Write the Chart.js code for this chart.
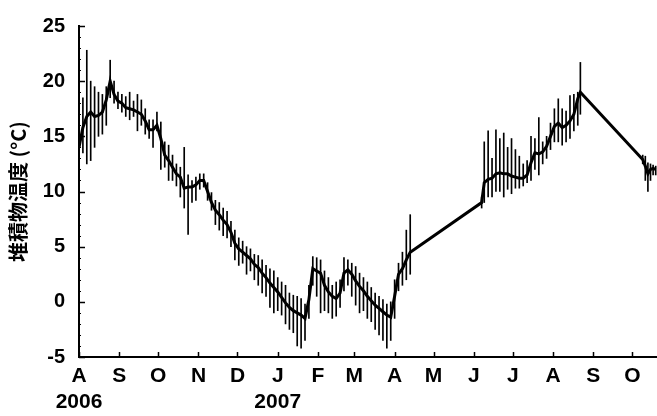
<!DOCTYPE html>
<html>
<head>
<meta charset="utf-8">
<script src="https://cdn.jsdelivr.net/npm/chart.js@4/dist/chart.umd.min.js"></script>
<style>
  html, body { margin: 0; padding: 0; background: #fff; }
  #wrap { width: 657px; height: 416px; }
</style>
</head>
<body>
<div id="wrap"><canvas id="tempChart"></canvas></div>
<script>
// days counted from 2006-08-01
const days = [
    0, 3, 6, 9, 12, 15, 18, 21, 24, 27, 30, 33, 36, 39, 42, 45, 48, 51, 54, 57,
    60, 63, 66, 69, 72, 75, 78, 81, 84, 87, 90, 93, 96, 99, 102, 105, 108, 111, 114, 117,
    120, 123, 126, 129, 132, 135, 138, 141, 144, 147, 150, 153, 156, 159, 162, 165, 168, 171, 174, 177,
    180, 183, 186, 189, 192, 195, 198, 201, 204, 207, 210, 213, 216, 219, 222, 225, 228, 231, 234, 237,
    240, 243, 246, 249, 252, 255,
    310, 312, 315, 318, 321, 324, 327, 330, 333, 336, 339, 342, 345, 348, 351, 354, 357, 360, 363, 366,
    369, 372, 375, 378, 381, 384, 386,
    434, 436, 438, 440, 442, 444
];
const meanTemp = [
    14.0, 15.8, 16.8, 17.2, 16.8, 16.9, 17.2, 18.3, 20.0, 18.8, 18.2, 18.0, 17.6, 17.5, 17.4, 17.2, 17.0, 16.4, 15.6, 15.6,
    16.0, 14.8, 13.3, 12.8, 12.2, 11.6, 11.3, 10.3, 10.4, 10.4, 10.6, 11.0, 11.0, 10.0, 9.0, 8.3, 7.9, 7.4, 7.0, 6.3,
    5.3, 4.8, 4.5, 4.2, 3.9, 3.4, 3.1, 2.6, 2.2, 1.7, 1.3, 0.9, 0.4, -0.1, -0.5, -0.8, -1.0, -1.2, -1.5, 0.2,
    3.0, 2.8, 2.6, 1.5, 0.9, 0.5, 0.3, 0.8, 2.6, 2.9, 2.5, 1.9, 1.4, 1.0, 0.5, 0.1, -0.3, -0.6, -0.9, -1.2,
    -1.4, 0.5, 2.5, 3.0, 3.8, 4.5,
    9.0, 10.8, 11.1, 11.2, 11.6, 11.7, 11.6, 11.6, 11.4, 11.3, 11.2, 11.2, 11.5, 12.6, 13.5, 13.4, 13.6, 14.1, 15.0, 15.9,
    16.2, 15.8, 16.0, 16.4, 17.0, 18.4, 19.0,
    12.9, 12.3, 11.6, 12.0, 12.1, 12.0
];
const minTemp = [
    13.0, 13.5, 12.5, 12.8, 14.0, 15.0, 15.2, 16.0, 18.5, 18.0, 17.5, 17.2, 16.8, 16.5, 16.8, 15.5, 16.0, 15.2, 14.8, 14.0,
    15.5, 12.0, 12.2, 11.0, 11.0, 10.5, 9.5, 8.5, 6.1, 9.0, 9.2, 10.2, 10.4, 9.2, 8.3, 7.0, 6.5, 6.0, 5.8, 5.0,
    3.8, 3.3, 3.5, 2.5, 2.8, 2.0, 1.5, 0.8, 0.5, -0.5, -1.0, -0.8, -1.2, -2.0, -2.5, -2.8, -4.0, -4.2, -3.5, -1.5,
    1.5, 0.5, -1.0, -0.8, -1.0, -1.5, -1.3, -0.5, 1.0, 1.5, 0.5, -0.3, -1.0, -0.8, -1.5, -1.8, -2.5, -3.0, -3.5, -4.2,
    -3.5, -1.5, 1.0, 1.5, 2.0, 2.5,
    8.5, 9.0, 9.5, 9.5, 10.0, 10.0, 9.5, 10.2, 9.8, 10.3, 10.3, 10.5, 10.8, 11.0, 12.0, 11.5, 12.5, 13.0, 13.8, 14.5,
    14.5, 14.2, 14.5, 14.8, 15.5, 16.0, 17.0,
    12.5, 11.0, 10.0, 11.0, 11.5, 11.5
];
const maxTemp = [
    15.5, 18.5, 22.8, 20.0, 19.5, 19.0, 18.8, 19.5, 21.9, 20.0, 19.0, 18.8, 18.6, 19.0, 18.2, 18.8, 18.3, 17.5, 16.5, 16.5,
    17.2, 16.3, 14.5, 14.2, 13.3, 12.5, 12.2, 14.0, 11.5, 11.0, 11.3, 11.6, 11.6, 10.8, 9.9, 9.2, 9.0, 8.5, 8.2, 7.3,
    6.5, 5.8, 5.5, 5.0, 4.8, 4.3, 4.2, 3.8, 3.3, 3.0, 2.8, 2.2, 1.8, 1.5, 0.8, 0.6, 0.5, 0.3, -0.2, 1.5,
    4.1, 4.0, 3.8, 2.8, 2.2, 1.5, 1.8, 2.0, 4.0, 3.8, 3.5, 3.2, 2.6, 2.2, 1.8, 1.3, 0.8, 0.5, 0.2, -0.2,
    0.0, 2.0, 3.5, 4.5, 6.5, 7.9,
    9.5, 14.5, 15.5, 13.0, 15.6, 14.8, 15.3, 14.0, 14.8, 13.8, 13.2, 12.5, 12.8, 15.0, 14.8, 16.7, 14.5, 15.0, 16.2, 17.5,
    18.4, 17.5, 17.3, 18.7, 18.8, 19.0, 21.7,
    13.3, 13.2, 12.6, 12.5, 12.4, 12.3
];

const tickDates = [
    [2006, 8], [2006, 9], [2006, 10], [2006, 11], [2006, 12], [2007, 1], [2007, 2], [2007, 3],
    [2007, 4], [2007, 5], [2007, 6], [2007, 7], [2007, 8], [2007, 9], [2007, 10]
];
const monthLetters = ['A', 'S', 'O', 'N', 'D', 'J', 'F', 'M', 'A', 'M', 'J', 'J', 'A', 'S', 'O'];
const yearLabels = ['2006', '', '', '', '', '2007', '', '', '', '', '', '', '', '', ''];
const yTicks = [-5, 0, 5, 10, 15, 20, 25];

const startDay = Date.UTC(2006, 7, 1);
const tickDays = tickDates.map(function (d) {
    return (Date.UTC(d[0], d[1] - 1, 1) - startDay) / 86400000;
});

const meanPoints = days.map(function (d, i) { return { x: d, y: meanTemp[i] }; });
const rangePoints = days.map(function (d, i) { return { x: d, y: [minTemp[i], maxTemp[i]] }; });

// ticks point into the plot area in the original
const inwardTicks = {
    id: 'inwardTicks',
    afterDraw: function (chart) {
        const ctx = chart.ctx;
        const area = chart.chartArea;
        const xs = chart.scales.x;
        const ys = chart.scales.y;
        ctx.save();
        ctx.strokeStyle = '#000';
        ctx.lineWidth = 1.5;
        ctx.beginPath();
        tickDays.forEach(function (d) {
            const px = Math.round(xs.getPixelForValue(d)) + 0.5;
            ctx.moveTo(px, area.bottom);
            ctx.lineTo(px, area.bottom - 5);
        });
        yTicks.forEach(function (v) {
            const py = Math.round(ys.getPixelForValue(v)) + 0.5;
            ctx.moveTo(area.left, py);
            ctx.lineTo(area.left + 6, py);
        });
        ctx.stroke();
        ctx.lineWidth = 1;
        ctx.beginPath();
        for (let v = -4; v < 25; v++) {
            if (v % 5 === 0) continue;
            const py = Math.round(ys.getPixelForValue(v)) + 0.5;
            ctx.moveTo(area.left, py);
            ctx.lineTo(area.left + 2, py);
        }
        ctx.stroke();
        ctx.restore();
    }
};

const ctx = document.querySelector('#tempChart');

new Chart(ctx, {
    type: 'bar',
    data: {
        datasets: [
            {
                type: 'line',
                label: '日平均',
                data: meanPoints,
                borderColor: '#000',
                borderWidth: 3,
                pointRadius: 0,
                tension: 0,
                order: 0
            },
            {
                type: 'bar',
                label: '範囲',
                data: rangePoints,
                backgroundColor: '#000',
                borderWidth: 0,
                barThickness: 1,
                order: 1
            }
        ]
    },
    options: {
        responsive: true,
        maintainAspectRatio: false,
        animation: false,
        layout: { padding: { top: 15, right: 0, bottom: 0, left: 0 } },
        plugins: {
            legend: { display: false },
            tooltip: { enabled: false }
        },
        scales: {
            x: {
                type: 'linear',
                offset: false,
                min: 0,
                max: 445,
                grid: { display: false, drawTicks: false },
                border: { display: true, color: '#000', width: 2 },
                afterBuildTicks: function (scale) {
                    scale.ticks = tickDays.map(function (d) { return { value: d }; });
                },
                afterFit: function (scale) { scale.height = 59; },
                ticks: {
                    autoSkip: false,
                    maxRotation: 0,
                    padding: 7,
                    color: '#000',
                    font: { family: 'Liberation Sans', size: 21, weight: 'bold', lineHeight: 1.2 },
                    callback: function (value, index) {
                        if (yearLabels[index]) return [monthLetters[index], yearLabels[index]];
                        return monthLetters[index];
                    }
                }
            },
            y: {
                min: -5,
                max: 25,
                grid: { display: false, drawTicks: false },
                border: { display: true, color: '#000', width: 2 },
                afterFit: function (scale) { scale.width = 79; },
                ticks: {
                    stepSize: 5,
                    padding: 14,
                    color: '#000',
                    font: { family: 'Liberation Sans', size: 20, weight: 'bold' }
                },
                title: {
                    display: true,
                    text: '堆積物温度 (°C)',
                    color: '#000',
                    padding: { top: 6, bottom: 0 },
                    font: { family: 'Noto Sans CJK JP', size: 20, weight: 'bold' }
                }
            }
        }
    },
    plugins: [inwardTicks]
});
</script>
</body>
</html>
